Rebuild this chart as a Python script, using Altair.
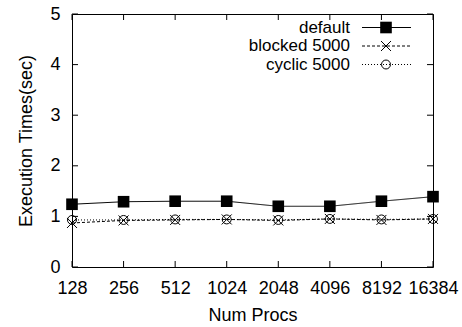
import altair as alt
import pandas as pd

# Number of processes (x axis) and measured execution times in seconds
procs = [128, 256, 512, 1024, 2048, 4096, 8192, 16384]
default_times = [1.24, 1.29, 1.30, 1.30, 1.20, 1.20, 1.30, 1.39]
blocked_times = [0.87, 0.92, 0.93, 0.94, 0.92, 0.95, 0.93, 0.95]
cyclic_times = [0.93, 0.93, 0.94, 0.94, 0.93, 0.95, 0.94, 0.95]

series_names = ["default", "blocked 5000", "cyclic 5000"]
y_ticks = [0, 1, 2, 3, 4, 5]

W, H = 361, 253
FONT = "Liberation Sans"
FS = 18
KEY_FS = 17

CROSS = "M-1,-1L1,1M1,-1L-1,1"
styles = {
    "default": dict(dash=[1, 0], shape="square", filled=True, size=135),
    "blocked 5000": dict(dash=[3, 2], shape=CROSS, filled=False, size=100),
    "cyclic 5000": dict(dash=[1, 2], shape="circle", filled=False, size=80),
}

frames = []
for name, vals in zip(series_names, [default_times, blocked_times, cyclic_times]):
    frames.append(pd.DataFrame({"procs": procs, "time": vals, "series": name}))
df = pd.concat(frames, ignore_index=True)

x_enc = alt.X(
    "procs:Q",
    scale=alt.Scale(type="log", base=2, domain=[128, 16384], nice=False),
    axis=alt.Axis(values=procs, format="d", title="Num Procs", grid=False,
                  labelPadding=12, titlePadding=9, labelFlush=False),
)
y_enc = alt.Y(
    "time:Q",
    scale=alt.Scale(domain=[0, 5], nice=False, zero=True),
    axis=alt.Axis(values=y_ticks, format="d", title="Execution Times(sec)", grid=False,
                  labelPadding=12, titlePadding=14),
)

layers = []
for name in series_names:
    st = styles[name]
    base = alt.Chart(df).transform_filter(alt.datum.series == name)
    layers.append(
        base.mark_line(color="black", strokeWidth=1, strokeDash=st["dash"]).encode(x=x_enc, y=y_enc)
    )
    layers.append(
        base.mark_point(shape=st["shape"], filled=st["filled"], size=st["size"],
                        color="black", strokeWidth=1, opacity=1).encode(x=x_enc, y=y_enc)
    )

# Inward-facing tick marks on all four sides
xt = alt.Chart(pd.DataFrame({"procs": procs}))
layers.append(xt.mark_rule(color="black").encode(x=x_enc, y=alt.value(H), y2=alt.value(H - 6)))
layers.append(xt.mark_rule(color="black").encode(x=x_enc, y=alt.value(0), y2=alt.value(6)))
yt = alt.Chart(pd.DataFrame({"time": y_ticks}))
layers.append(yt.mark_rule(color="black").encode(y=y_enc, x=alt.value(0), x2=alt.value(6)))
layers.append(yt.mark_rule(color="black").encode(y=y_enc, x=alt.value(W - 6), x2=alt.value(W)))

# Key in the upper right corner
key_rows = [13.5, 32, 50.5]
one = alt.Chart(pd.DataFrame({"k": [0]}))
for name, ky in zip(series_names, key_rows):
    st = styles[name]
    layers.append(one.mark_text(text=name, align="right", baseline="middle", font=FONT,
                                fontSize=KEY_FS, color="black")
                  .encode(x=alt.value(278), y=alt.value(ky)))
    layers.append(one.mark_rule(color="black", strokeWidth=1, strokeDash=st["dash"])
                  .encode(x=alt.value(290), x2=alt.value(339), y=alt.value(ky)))
    layers.append(one.mark_point(shape=st["shape"], filled=st["filled"], size=st["size"],
                                 color="black", strokeWidth=1, opacity=1)
                  .encode(x=alt.value(314), y=alt.value(ky)))

chart = (
    alt.layer(*layers)
    .properties(width=W, height=H, autosize=alt.AutoSizeParams(type="none"),
                padding={"left": 72, "top": 14, "right": 29, "bottom": 60},
                background="white")
    .configure_view(stroke="black", strokeWidth=1)
    .configure_axis(domain=False, ticks=False, labelFont=FONT, labelFontSize=FS,
                    labelColor="black", titleFont=FONT, titleFontSize=FS,
                    titleFontWeight="normal", titleColor="black")
)

chart.save("out.html", embed_options={"renderer": "svg", "actions": False})
